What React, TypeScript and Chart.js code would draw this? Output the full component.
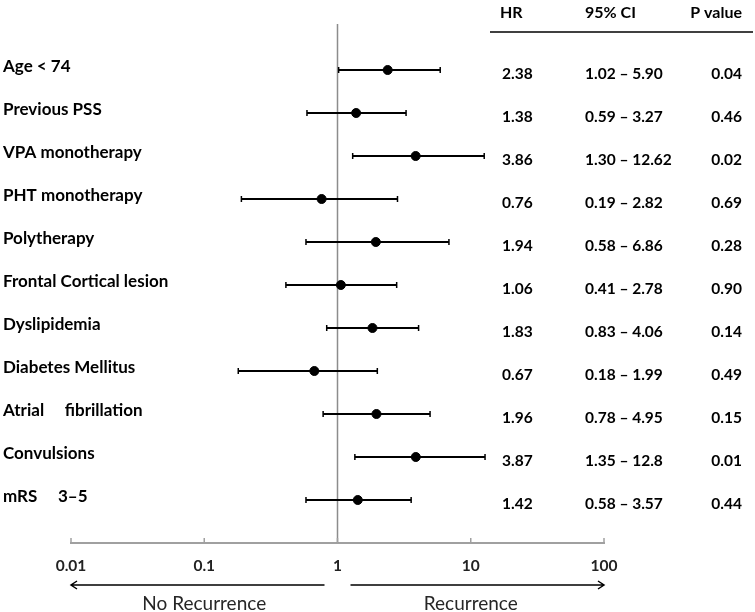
import React, { useEffect, useRef } from "react";
import { Chart, registerables } from "chart.js";

Chart.register(...registerables);

const rowLabels = [
  "Age < 74",
  "Previous PSS",
  "VPA monotherapy",
  "PHT monotherapy",
  "Polytherapy",
  "Frontal Cortical lesion",
  "Dyslipidemia",
  "Diabetes Mellitus",
  "Atrial     fibrillation",
  "Convulsions",
  "mRS     3–5",
];
const hrValues = [2.38, 1.38, 3.86, 0.76, 1.94, 1.06, 1.83, 0.67, 1.96, 3.87, 1.42];
const ciLower = [1.02, 0.59, 1.3, 0.19, 0.58, 0.41, 0.83, 0.18, 0.78, 1.35, 0.58];
const ciUpper = [5.9, 3.27, 12.62, 2.82, 6.86, 2.78, 4.06, 1.99, 4.95, 12.8, 3.57];
const hrText = ["2.38", "1.38", "3.86", "0.76", "1.94", "1.06", "1.83", "0.67", "1.96", "3.87", "1.42"];
const ciText = [
  "1.02 – 5.90",
  "0.59 – 3.27",
  "1.30 – 12.62",
  "0.19 – 2.82",
  "0.58 – 6.86",
  "0.41 – 2.78",
  "0.83 – 4.06",
  "0.18 – 1.99",
  "0.78 – 4.95",
  "1.35 – 12.8",
  "0.58 – 3.57",
];
const pText = ["0.04", "0.46", "0.02", "0.69", "0.28", "0.90", "0.14", "0.49", "0.15", "0.01", "0.44"];
const tickValues = [0.01, 0.1, 1, 10, 100];
const tickLabels = ["0.01", "0.1", "1", "10", "100"];
const headers = ["HR", "95% CI", "P value"];
const directionLabels = ["No Recurrence", "Recurrence"];

const FONT = "Lato, 'Open Sans', sans-serif";
const AXIS_GRAY = "#a0a0a0";

const forestPlugin = {
  id: "forest",
  beforeDatasetsDraw(chart: any) {
    const { ctx, chartArea } = chart;
    const x = chart.scales.x;
    const y = chart.scales.y;
    ctx.save();
    // reference line at HR = 1
    const x1 = x.getPixelForValue(1);
    ctx.strokeStyle = "#8c8c8c";
    ctx.lineWidth = 1.5;
    ctx.beginPath();
    ctx.moveTo(x1, chartArea.top);
    ctx.lineTo(x1, chartArea.bottom);
    ctx.stroke();
    // whiskers
    ctx.strokeStyle = "#000";
    for (let i = 0; i < hrValues.length; i++) {
      const py = y.getPixelForValue(i);
      const xl = x.getPixelForValue(ciLower[i]);
      const xu = x.getPixelForValue(ciUpper[i]);
      ctx.lineWidth = 2;
      ctx.beginPath();
      ctx.moveTo(xl, py);
      ctx.lineTo(xu, py);
      ctx.stroke();
      ctx.lineWidth = 1.5;
      ctx.beginPath();
      ctx.moveTo(xl, py - 3);
      ctx.lineTo(xl, py + 3);
      ctx.moveTo(xu, py - 3);
      ctx.lineTo(xu, py + 3);
      ctx.stroke();
    }
    ctx.restore();
  },
  afterDraw(chart: any) {
    const { ctx, chartArea } = chart;
    const x = chart.scales.x;
    const y = chart.scales.y;
    ctx.save();
    // small upward tick marks
    ctx.strokeStyle = AXIS_GRAY;
    ctx.lineWidth = 1.5;
    for (const v of tickValues) {
      const px = x.getPixelForValue(v);
      ctx.beginPath();
      ctx.moveTo(px, chartArea.bottom);
      ctx.lineTo(px, chartArea.bottom - 5);
      ctx.stroke();
    }
    // row labels
    ctx.fillStyle = "#000";
    ctx.textBaseline = "middle";
    ctx.font = `bold 17px ${FONT}`;
    ctx.textAlign = "left";
    for (let i = 0; i < rowLabels.length; i++) {
      ctx.fillText(rowLabels[i], 3, y.getPixelForValue(i) - 3);
    }
    // table
    const hrX = 502;
    const ciX = 585;
    const pX = 742;
    const headY = chartArea.top - 11;
    ctx.font = `bold 16px ${FONT}`;
    ctx.textAlign = "left";
    ctx.fillText(headers[0], hrX - 2, headY);
    ctx.fillText(headers[1], ciX, headY);
    ctx.textAlign = "right";
    ctx.fillText(headers[2], pX, headY);
    ctx.strokeStyle = "#000";
    ctx.lineWidth = 1.5;
    ctx.beginPath();
    ctx.moveTo(490, chartArea.top + 8);
    ctx.lineTo(753, chartArea.top + 8);
    ctx.stroke();
    ctx.font = `bold 15.5px ${FONT}`;
    for (let i = 0; i < hrValues.length; i++) {
      const ty = y.getPixelForValue(i) + 4;
      ctx.textAlign = "left";
      ctx.fillText(hrText[i], hrX, ty);
      ctx.fillText(ciText[i], ciX, ty);
      ctx.textAlign = "right";
      ctx.fillText(pText[i], pX, ty);
    }
    // direction arrows
    const ay = chartArea.bottom + 42;
    const xOne = x.getPixelForValue(1);
    const xMin = x.getPixelForValue(tickValues[0]);
    const xMax = x.getPixelForValue(tickValues[tickValues.length - 1]);
    ctx.strokeStyle = "#000";
    ctx.lineWidth = 1.5;
    ctx.beginPath();
    ctx.moveTo(xOne - 13, ay);
    ctx.lineTo(xMin, ay);
    ctx.moveTo(xMin + 6, ay - 4);
    ctx.lineTo(xMin, ay);
    ctx.lineTo(xMin + 6, ay + 4);
    ctx.moveTo(xOne + 13, ay);
    ctx.lineTo(xMax, ay);
    ctx.moveTo(xMax - 6, ay - 4);
    ctx.lineTo(xMax, ay);
    ctx.lineTo(xMax - 6, ay + 4);
    ctx.stroke();
    ctx.fillStyle = "#262626";
    ctx.font = `19px ${FONT}`;
    ctx.textAlign = "center";
    ctx.fillText(directionLabels[0], x.getPixelForValue(0.1), ay + 19);
    ctx.fillText(directionLabels[1], x.getPixelForValue(10), ay + 19);
    ctx.restore();
  },
};

export default function App() {
  const ref = useRef<HTMLCanvasElement>(null);
  useEffect(() => {
    const chart = new Chart(ref.current as HTMLCanvasElement, {
      type: "scatter",
      data: {
        datasets: [
          {
            data: hrValues.map((v, i) => ({ x: v, y: i })),
            backgroundColor: "#000",
            borderColor: "#000",
            pointRadius: 4.5,
            pointHoverRadius: 4.5,
          },
        ],
      },
      options: {
        responsive: false,
        animation: false,
        layout: { padding: { left: 71, right: 151, top: 24, bottom: 0 } },
        plugins: { legend: { display: false }, tooltip: { enabled: false } },
        scales: {
          x: {
            type: "logarithmic",
            min: 0.01,
            max: 100,
            position: "bottom",
            afterBuildTicks: (s: any) => {
              s.ticks = tickValues.map((v) => ({ value: v }));
            },
            afterFit: (s: any) => {
              s.height = 69;
              s.paddingLeft = 0;
              s.paddingRight = 0;
            },
            grid: { drawOnChartArea: false, drawTicks: false },
            border: { color: AXIS_GRAY, width: 2 },
            ticks: {
              padding: 14,
              autoSkip: false,
              maxRotation: 0,
              color: "#222",
              font: { family: FONT, size: 15.5, weight: "bold" },
              callback: (_v: any, idx: number) => tickLabels[idx] ?? "",
            },
          },
          y: { type: "linear", min: -1.07, max: 11, reverse: true, display: false },
        },
      } as any,
      plugins: [forestPlugin],
    });
    return () => chart.destroy();
  }, []);
  return (
    <div style={{ position: "fixed", left: 0, top: 0, width: 755, height: 612, background: "#fff" }}>
      <canvas ref={ref} width={755} height={612} style={{ display: "block" }} />
    </div>
  );
}
